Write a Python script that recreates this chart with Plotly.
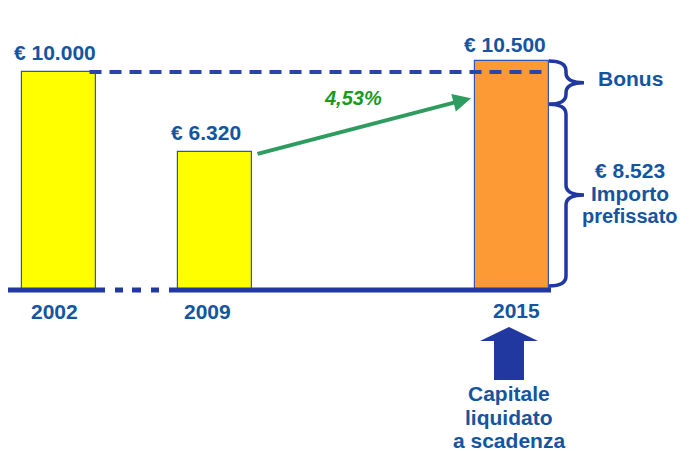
import plotly.graph_objects as go

# ---------------- data ----------------
years = ["2002", "2009", "2015"]
values = [10000, 6320, 10500]
value_labels = ["€ 10.000", "€ 6.320", "€ 10.500"]
guaranteed = 8523
guaranteed_label = "€ 8.523"
guaranteed_lines = [guaranteed_label, "Importo", "prefissato"]
bonus_label = "Bonus"
rate_label = "4,53%"
capitale_lines = ["Capitale", "liquidato", "a scadenza"]

# ---------------- layout constants ----------------
W, H = 690, 451
OFF = 8                  # page body margin
FW, FH = W - OFF, H - OFF
BASE_PX = 290            # pixel row of the zero line (page coords)
K = 218 / 10000          # pixels per euro
SLOT_X = [58.5, 215, 512]
BAR_W = 74
bar_colors = ["#ffff00", "#ffff00", "#fd9a36"]
TXT = "#14559f"
LINE = "#2038a0"
GREEN = "#2e9b5f"
FONT = "Liberation Sans, Arial, sans-serif"

def dv(px):
    """pixel distance -> data units"""
    return px / K

def py(p):
    """page pixel row -> paper fraction"""
    return 1 - (p - OFF) / FH

y_range = [-(H - BASE_PX) / K, (BASE_PX - OFF) / K]

fig = go.Figure()
fig.add_trace(go.Bar(
    x=SLOT_X, y=values, width=BAR_W,
    marker=dict(color=bar_colors, line=dict(color="#3552b5", width=1.2)),
    hoverinfo="skip",
))

shapes = []
for x0, x1 in [(0, 105), (115, 123), (132, 141), (151, 159), (169, 551)]:
    shapes.append(dict(type="line", xref="x", yref="y", x0=x0, x1=x1, y0=0, y1=0,
                       line=dict(color=LINE, width=5)))
right2015 = SLOT_X[2] + BAR_W / 2
shapes.append(dict(type="line", xref="x", yref="y",
                   x0=SLOT_X[0] + BAR_W / 2 - 6, x1=right2015,
                   y0=values[0], y1=values[0],
                   line=dict(color="#2a45a8", width=4, dash="12px,8px")))

def brace(xa, ytop, ybot, gap=17, tip=18, r=10):
    xb = xa + gap
    xt = xb + tip
    ry = dv(r)
    ym = (ytop + ybot) / 2
    return (f"M {xa},{ytop} Q {xb},{ytop} {xb},{ytop - ry} "
            f"L {xb},{ym + ry} Q {xb},{ym} {xt},{ym} "
            f"Q {xb},{ym} {xb},{ym - ry} "
            f"L {xb},{ybot + ry} Q {xb},{ybot} {xa},{ybot}")

shapes.append(dict(type="path", xref="x", yref="y",
                   path=brace(right2015, values[2], guaranteed),
                   line=dict(color=LINE, width=3.5)))
shapes.append(dict(type="path", xref="x", yref="y",
                   path=brace(right2015, guaranteed, dv(4)),
                   line=dict(color=LINE, width=3.5)))

cx = 509
arrow_path = (f"M {cx - 15},{py(380)} L {cx + 15},{py(380)} L {cx + 15},{py(341)} "
              f"L {cx + 29},{py(341)} L {cx},{py(327)} L {cx - 29},{py(341)} "
              f"L {cx - 15},{py(341)} Z")
shapes.append(dict(type="path", xref="x", yref="paper", path=arrow_path,
                   fillcolor=LINE, line=dict(color=LINE, width=0)))

ann = []
def txt(x, y, s, size=21, color=TXT, yref="y", yshift=0, xshift=0, italic=False):
    t = f"<b>{s}</b>"
    if italic:
        t = f"<i>{t}</i>"
    ann.append(dict(x=x, y=y, xref="x", yref=yref, text=t, showarrow=False,
                    font=dict(family=FONT, size=size, color=color),
                    yshift=yshift, xshift=xshift, xanchor="center", yanchor="middle"))

# value labels
txt(SLOT_X[0], values[0], value_labels[0], yshift=20, xshift=-4)
txt(SLOT_X[1], values[1], value_labels[1], yshift=20, xshift=-9)
txt(SLOT_X[2], values[2], value_labels[2], yshift=17, xshift=-7)
# year labels
txt(SLOT_X[0], 0, years[0], yshift=-21, xshift=-4)
txt(SLOT_X[1], 0, years[1], yshift=-21, xshift=-8)
txt(SLOT_X[2], 0, years[2], yshift=-20, xshift=4)
# brace labels
txt(630, (values[2] + guaranteed) / 2, bonus_label, yshift=4)
for s, sh in zip(guaranteed_lines, [27, 4, -19]):
    txt(630, guaranteed / 2, s, size=20 if s == "prefissato" else 21, yshift=sh)
# capitale text
for s, p in zip(capitale_lines, [393, 417, 440]):
    txt(cx, py(p), s, yref="paper")
# growth arrow
ann.append(dict(x=SLOT_X[2] - BAR_W / 2 - 4, y=guaranteed + dv(6), xref="x", yref="y",
                ax=SLOT_X[1] + BAR_W / 2 + 4, ay=values[1] - dv(2), axref="x", ayref="y",
                showarrow=True, arrowhead=2, arrowsize=0.9, arrowwidth=4,
                arrowcolor=GREEN, text=""))
txt(353, (values[1] + guaranteed) / 2, rate_label, size=20, color="#1a9a1a",
    yshift=30, italic=True)

fig.update_layout(
    width=FW, height=FH,
    margin=dict(l=0, r=0, t=0, b=0),
    paper_bgcolor="white", plot_bgcolor="white",
    showlegend=False,
    xaxis=dict(range=[OFF, W], visible=False, fixedrange=True),
    yaxis=dict(range=y_range, visible=False, fixedrange=True),
    shapes=shapes, annotations=ann,
    bargap=0,
)
fig.write_html("out.html")
